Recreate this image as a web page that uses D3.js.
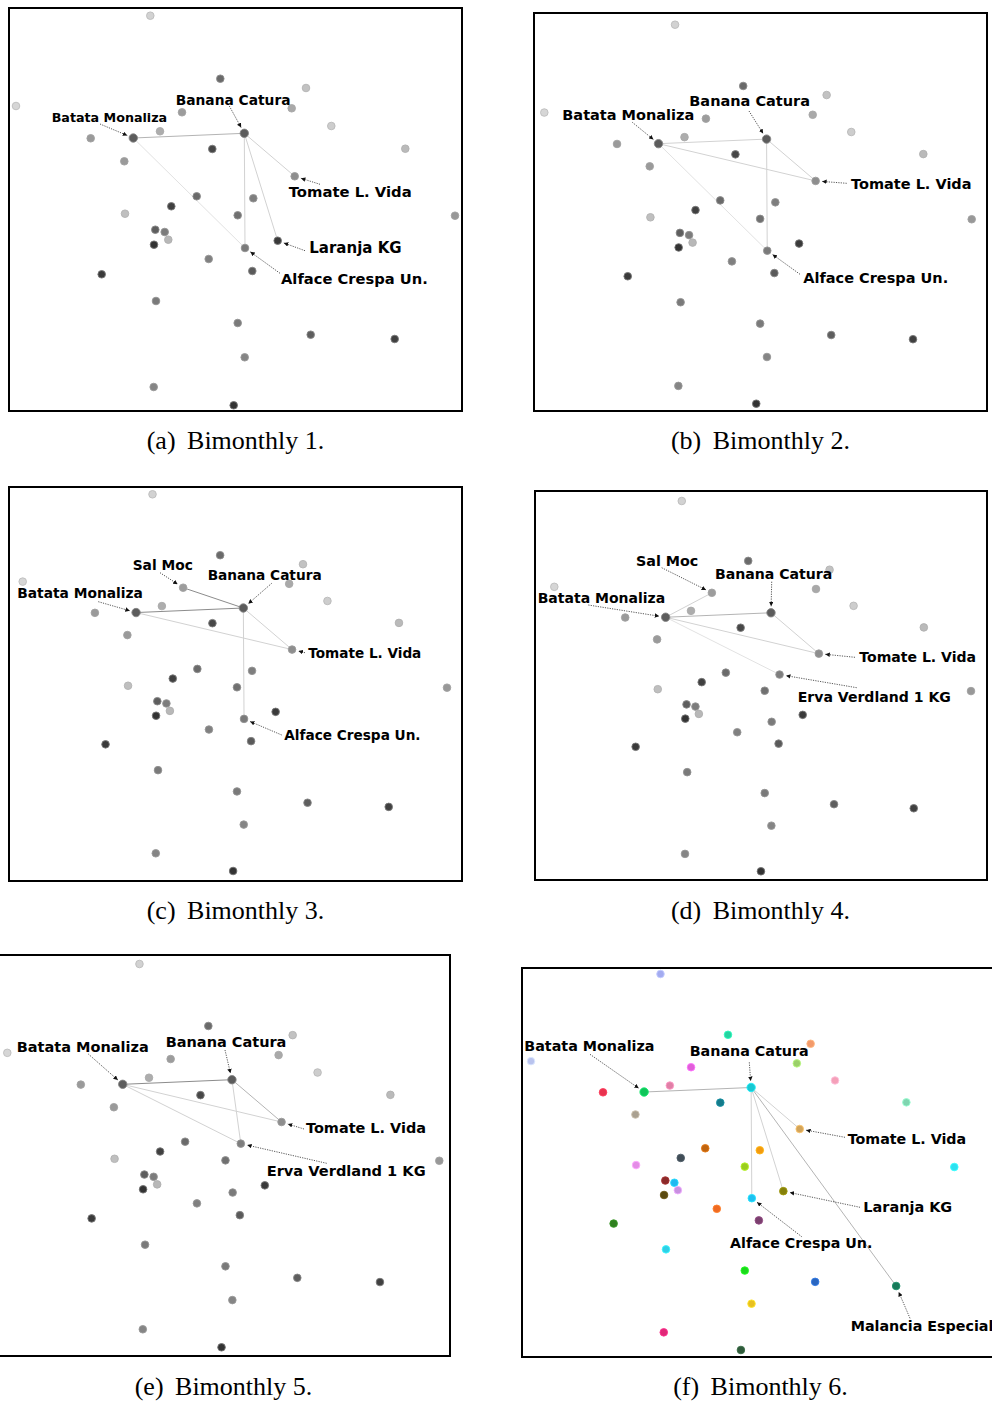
<!DOCTYPE html>
<html>
<head>
<meta charset="utf-8">
<script src="https://cdn.jsdelivr.net/npm/d3@7"></script>
<style>
  body { margin: 0; background: #fff; }
  svg { display: block; }
</style>
</head>
<body>
<div id="chart"></div>
<script>
// node layout (shared by all six bimonthly graphs)
const nodeIds = d3.range(1, 38);
const nodeX = [150.3, 16, 220.3, 306, 291.7, 182, 331.3, 90.7, 133.3, 160, 244.3, 212.3, 405.3, 124.3,
  294.7, 196.7, 253.3, 171.3, 237.7, 125, 455, 155.3, 164.7, 168.3, 154, 277.7, 245, 208.7, 252.3,
  101.7, 156, 237.7, 310.7, 394.7, 244.7, 153.7, 233.7];
const nodeY = [15.7, 106, 78.7, 88, 108.3, 112.3, 126, 138.3, 138, 131.3, 133.3, 149, 148.7, 161.3,
  176.3, 196.3, 198.3, 206.3, 215.3, 213.7, 215.7, 229.7, 232, 239.7, 244.7, 240.7, 248, 259, 271,
  274.3, 301, 323, 334.7, 339, 357.3, 387, 405.3];
const nodeGray = ["#d2d2d2", "#d6d6d6", "#6a6a6a", "#c2c2c2", "#a9a9a9", "#9c9c9c", "#cdcdcd", "#9a9a9a",
  "#5c5c5c", "#adadad", "#5c5c5c", "#474747", "#bababa", "#9a9a9a", "#8e8e8e", "#6a6a6a", "#7e7e7e",
  "#404040", "#707070", "#bfbfbf", "#989898", "#5e5e5e", "#7c7c7c", "#b8b8b8", "#333333", "#3a3a3a",
  "#7a7a7a", "#808080", "#5a5a5a", "#3a3a3a", "#7a7a7a", "#7a7a7a", "#5e5e5e", "#404040", "#858585",
  "#858585", "#333333"];
const nodeColor = ["#a3abf0", "#b9c3ee", "#25d3a0", "#f39a6b", "#9bd06a", "#e05fd8", "#f4a0b8", "#e8334f",
  "#10c45a", "#e07fa6", "#18c8d2", "#157a8a", "#80d5b0", "#aaa191", "#d2a45a", "#c0640f", "#f29a10",
  "#414d57", "#9acd1f", "#e38de6", "#2de0f0", "#8b2a2a", "#1fb8f0", "#c890e0", "#5a4a10", "#85800a",
  "#1ec0f0", "#ef6a22", "#7a3f6e", "#2f7f1f", "#2fcfe6", "#1bd81b", "#2a66c0", "#187a5a", "#e8c020",
  "#e02878", "#2f5a3a"];

const labelIds = [6, 9, 11, 15, 17, 26, 27, 34];
const labelNames = ["Sal Moc", "Batata Monaliza", "Banana Catura", "Tomate L. Vida",
  "Erva Verdland 1 KG", "Laranja KG", "Alface Crespa Un.", "Malancia Especial"];

// edges per bimonthly: [source, target, weight]
const edges1 = [[9, 11, 2], [11, 15, 1], [11, 27, 1], [11, 26, 1], [9, 27, 0]];
const edges2 = [[9, 11, 1], [9, 15, 1], [11, 15, 1], [11, 27, 1], [9, 27, 0]];
const edges3 = [[6, 11, 3], [9, 11, 3], [9, 15, 1], [11, 15, 1], [11, 27, 1]];
const edges4 = [[9, 11, 2], [9, 6, 1], [9, 15, 1], [11, 15, 1], [9, 17, 0]];
const edges5 = [[9, 11, 3], [9, 15, 1], [9, 17, 1], [11, 15, 2], [11, 17, 1]];
const edges6 = [[9, 11, 2], [11, 15, 1], [11, 27, 1], [11, 26, 1], [11, 34, 2]];

const captionLetters = ["(a)", "(b)", "(c)", "(d)", "(e)", "(f)"];
const captionTexts = ["Bimonthly 1.", "Bimonthly 2.", "Bimonthly 3.", "Bimonthly 4.", "Bimonthly 5.", "Bimonthly 6."];

const nodes = nodeIds.map((id, i) => ({ id, x: nodeX[i], y: nodeY[i], gray: nodeGray[i], color: nodeColor[i] }));
const byId = new Map(nodes.map(d => [d.id, d]));
const nameOf = new Map(labelIds.map((id, i) => [id, labelNames[i]]));

// panel placement on the page
const panels = [
  { frame: [9, 8, 462, 411], xr: [16, 455], yr: [15.7, 405.3], cap: [235.5, 449], edges: edges1,
    labels: [
      { id: 9, x: 51.7, y: 121.5, size: 12.7, from: [100, 124] },
      { id: 11, x: 175.7, y: 104.5, size: 13.8, from: [229.3, 106] },
      { id: 15, x: 288.7, y: 196.5, size: 14.8, from: [320, 184.3] },
      { id: 26, x: 309.3, y: 252.5, size: 15, from: [305, 250.7] },
      { id: 27, x: 281, y: 284, size: 14.7, from: [280, 273.3] }] },
  { frame: [534, 13, 987, 411], xr: [544.3, 971.7], yr: [24.7, 403.7], cap: [760.5, 449], edges: edges2,
    labels: [
      { id: 9, x: 562.3, y: 120, size: 14.5, from: [632.3, 122.3] },
      { id: 11, x: 689.3, y: 106, size: 14.5, from: [749, 111] },
      { id: 15, x: 851, y: 189.3, size: 14.5, from: [846.7, 183.3] },
      { id: 27, x: 803.3, y: 283.3, size: 14.5, from: [800, 274.3] }] },
  { frame: [9, 487, 462, 881], xr: [22.7, 447], yr: [494.3, 871], cap: [235.5, 919], edges: edges3,
    labels: [
      { id: 6, x: 132.7, y: 570, size: 13.8, from: [160, 572.7] },
      { id: 11, x: 207.7, y: 580, size: 13.7, from: [271.7, 583.3] },
      { id: 9, x: 17.3, y: 597.7, size: 13.8, from: [98.3, 601.7] },
      { id: 15, x: 308.3, y: 658.3, size: 13.6, from: [305, 652.7] },
      { id: 27, x: 284.3, y: 740, size: 13.65, from: [281.7, 735] }] },
  { frame: [535, 491, 987, 880], xr: [554.3, 971], yr: [501, 871.3], cap: [760.5, 919], edges: edges4,
    labels: [
      { id: 6, x: 636, y: 566, size: 14.3, from: [661.7, 567.7] },
      { id: 11, x: 715, y: 579.3, size: 14.1, from: [771.7, 581.7] },
      { id: 9, x: 537.7, y: 603.3, size: 14, from: [588.3, 605] },
      { id: 15, x: 859.3, y: 662, size: 14.06, from: [855, 657.3] },
      { id: 17, x: 797.7, y: 701.7, size: 14.07, from: [856.7, 687.7] }] },
  { frame: [-10, 955, 450, 1356], xr: [7.3, 439.3], yr: [964, 1347.3], cap: [223.5, 1395], edges: edges5,
    labels: [
      { id: 9, x: 16.7, y: 1052, size: 14.5, from: [88.3, 1054] },
      { id: 11, x: 165.7, y: 1047.3, size: 14.5, from: [225, 1050] },
      { id: 15, x: 306, y: 1132.7, size: 14.45, from: [304, 1129] },
      { id: 17, x: 266.7, y: 1176, size: 14.6, from: [326.7, 1163.3] }] },
  { frame: [522, 968, 1010, 1357], xr: [531, 954.3], yr: [974, 1350], cap: [760.5, 1395], edges: edges6, colored: true,
    labels: [
      { id: 9, x: 524.3, y: 1050.7, size: 14.3, from: [590, 1054.3] },
      { id: 11, x: 689.7, y: 1056, size: 14.3, from: [749.3, 1062.3] },
      { id: 15, x: 847.7, y: 1144, size: 14.26, from: [845, 1137.3] },
      { id: 26, x: 863.3, y: 1212, size: 14.46, from: [860, 1207.3] },
      { id: 27, x: 730, y: 1248, size: 14.25, from: [801.7, 1236.7] },
      { id: 34, x: 850.7, y: 1330.7, size: 14.3, from: [910, 1318.3] }] }
];

const edgeStroke = d3.scaleOrdinal().domain([0, 1, 2, 3]).range(["#e2e2e2", "#d2d2d2", "#b4b4b4", "#8c8c8c"]);

const svg = d3.select("#chart").append("svg")
  .attr("width", 992)
  .attr("height", 1403);

svg.append("rect").attr("width", 992).attr("height", 1403).attr("fill", "#fff");

svg.append("defs").append("marker")
  .attr("id", "arrow")
  .attr("viewBox", "0 0 10 10")
  .attr("refX", 10).attr("refY", 5)
  .attr("markerUnits", "userSpaceOnUse")
  .attr("markerWidth", 4.5).attr("markerHeight", 4.5)
  .attr("orient", "auto")
  .append("path")
  .attr("d", "M0,0L10,5L0,10z")
  .attr("fill", "#111");

function ringColor(fill, colored) {
  if (colored) return d3.color(fill).brighter(0.5);
  return d3.interpolateRgb(fill, "#a8a8a8")(0.55);
}

panels.forEach((p, pi) => {
  const x = d3.scaleLinear().domain(d3.extent(nodeX)).range(p.xr);
  const y = d3.scaleLinear().domain(d3.extent(nodeY)).range(p.yr);
  const g = svg.append("g").attr("class", "panel");

  g.append("rect")
    .attr("x", p.frame[0]).attr("y", p.frame[1])
    .attr("width", p.frame[2] - p.frame[0])
    .attr("height", p.frame[3] - p.frame[1])
    .attr("fill", "#fff")
    .attr("stroke", "#000")
    .attr("stroke-width", 2);

  g.selectAll("line.edge")
    .data(p.edges)
    .enter()
    .append("line")
    .attr("class", "edge")
    .attr("x1", d => x(byId.get(d[0]).x))
    .attr("y1", d => y(byId.get(d[0]).y))
    .attr("x2", d => x(byId.get(d[1]).x))
    .attr("y2", d => y(byId.get(d[1]).y))
    .attr("stroke", d => edgeStroke(d[2]))
    .attr("stroke-width", 1);

  g.selectAll("circle.node")
    .data(nodes)
    .enter()
    .append("circle")
    .attr("class", "node")
    .attr("cx", d => x(d.x))
    .attr("cy", d => y(d.y))
    .attr("r", d => (d.id === 9 || d.id === 11) ? 4.2 : 3.8)
    .attr("fill", d => p.colored ? d.color : d.gray)
    .attr("stroke", d => ringColor(p.colored ? d.color : d.gray, p.colored))
    .attr("stroke-width", 0.9);

  // dotted pointer arrows from the label to its node
  g.selectAll("line.pointer")
    .data(p.labels)
    .enter()
    .append("line")
    .attr("class", "pointer")
    .attr("x1", d => d.from[0])
    .attr("y1", d => d.from[1])
    .attr("x2", d => {
      const n = byId.get(d.id), nx = x(n.x), ny = y(n.y);
      const dx = d.from[0] - nx, dy = d.from[1] - ny, len = Math.hypot(dx, dy);
      return nx + dx / len * 6.5;
    })
    .attr("y2", d => {
      const n = byId.get(d.id), nx = x(n.x), ny = y(n.y);
      const dx = d.from[0] - nx, dy = d.from[1] - ny, len = Math.hypot(dx, dy);
      return ny + dy / len * 6.5;
    })
    .attr("stroke", "#444")
    .attr("stroke-width", 0.9)
    .attr("stroke-dasharray", "1.2,1.2")
    .attr("marker-end", "url(#arrow)");

  g.selectAll("text.label")
    .data(p.labels)
    .enter()
    .append("text")
    .attr("class", "label")
    .attr("x", d => d.x)
    .attr("y", d => d.y)
    .attr("font-family", "DejaVu Sans, Verdana, sans-serif")
    .attr("font-weight", "bold")
    .attr("font-size", d => d.size)
    .attr("fill", "#000")
    .text(d => nameOf.get(d.id));

  const cap = svg.append("text")
    .attr("x", p.cap[0])
    .attr("y", p.cap[1])
    .attr("text-anchor", "middle")
    .attr("font-family", "Liberation Serif, Times New Roman, serif")
    .attr("font-size", 26)
    .attr("fill", "#000");
  cap.append("tspan").text(captionLetters[pi]);
  cap.append("tspan").attr("dx", 5).text(" " + captionTexts[pi]);
});
</script>
</body>
</html>
